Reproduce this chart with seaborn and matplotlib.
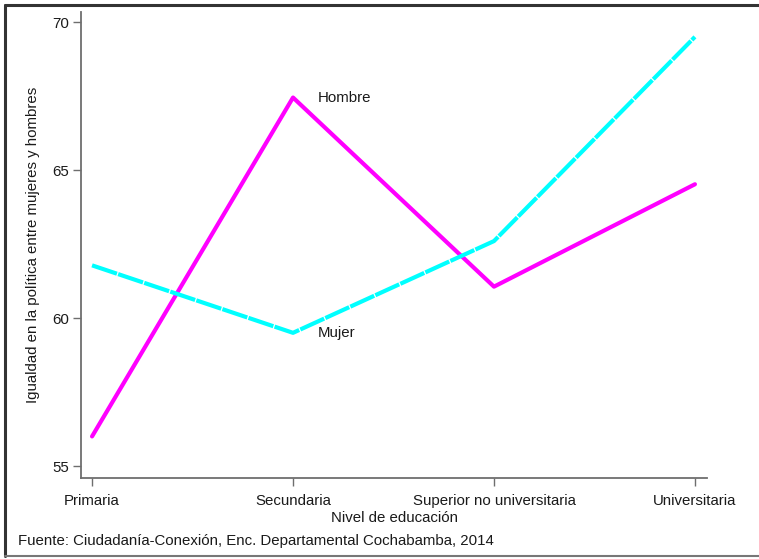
import matplotlib
matplotlib.use("Agg")
import matplotlib.pyplot as plt
import seaborn as sns
import pandas as pd
from matplotlib.lines import Line2D

niveles = ["Primaria", "Secundaria", "Superior no universitaria", "Universitaria"]
hombre = [56.0, 67.45, 61.06, 64.52]
mujer = [61.78, 59.5, 62.6, 69.5]
series = ["Hombre", "Mujer"]
yticks = [55, 60, 65, 70]

df = pd.DataFrame({
    "nivel": niveles * 2,
    "pos": list(range(len(niveles))) * 2,
    "valor": hombre + mujer,
    "sexo": ["Hombre"] * 4 + ["Mujer"] * 4,
})

sns.set_theme(style="white")
plt.rcParams["font.family"] = ["Liberation Sans", "DejaVu Sans"]

fig = plt.figure(figsize=(7.59, 5.59), dpi=100)
ax = fig.add_axes([81/759, 1-478/559, (707-81)/759, (478-12)/559])

sns.lineplot(data=df, x="pos", y="valor", hue="sexo", style="sexo",
             palette={"Hombre": "#FF00FF", "Mujer": "#00FFFF"},
             dashes={"Hombre": "", "Mujer": (6.3, 0.3)},
             linewidth=3.0, legend=False, ax=ax)

ax.set_xlim(-0.055, 3.06)
ax.set_ylim(54.595, 70.34)
ax.set_xticks(range(len(niveles)))
ax.set_xticklabels(niveles)
ax.set_yticks(yticks)
ax.set_yticklabels([str(t) for t in yticks])

for s in ["top", "right"]:
    ax.spines[s].set_visible(False)
for s in ["left", "bottom"]:
    ax.spines[s].set_color("#6e6e6e")
    ax.spines[s].set_linewidth(1.3)

ax.tick_params(axis="both", direction="out", length=5.5, width=1.0,
               color="#6e6e6e", labelsize=10.8, labelcolor="#1a1a1a", pad=3)
ax.tick_params(axis="x", pad=6)
ax.tick_params(left=True, bottom=True)

ax.set_xlabel("Nivel de educación", fontsize=10.8, color="#1a1a1a", labelpad=2)
ax.set_ylabel("Igualdad en la política entre mujeres y hombres", fontsize=10.8,
              color="#1a1a1a", labelpad=9)

ax.annotate("Hombre", (1, hombre[1]), xytext=(18, 0), textcoords="offset points",
            va="center", ha="left", fontsize=10.8, color="#1a1a1a")
ax.annotate("Mujer", (1, mujer[1]), xytext=(18, 0), textcoords="offset points",
            va="center", ha="left", fontsize=10.8, color="#1a1a1a")

fig.text(18/759, 1-541/559, "Fuente: Ciudadanía-Conexión, Enc. Departamental Cochabamba, 2014",
         fontsize=10.8, color="#1a1a1a", va="center", ha="left")

# outer frame (top, left, bottom)
fig.add_artist(Line2D([5/759, 1.0], [1-5/559, 1-5/559], transform=fig.transFigure,
                      color="#333333", linewidth=2.2))
fig.add_artist(Line2D([5/759, 5/759], [1-5/559, 1-556/559], transform=fig.transFigure,
                      color="#333333", linewidth=2.2))
fig.add_artist(Line2D([5/759, 1.0], [1-556/559, 1-556/559], transform=fig.transFigure,
                      color="#777777", linewidth=1.5))

fig.savefig("out.png", dpi=100)
